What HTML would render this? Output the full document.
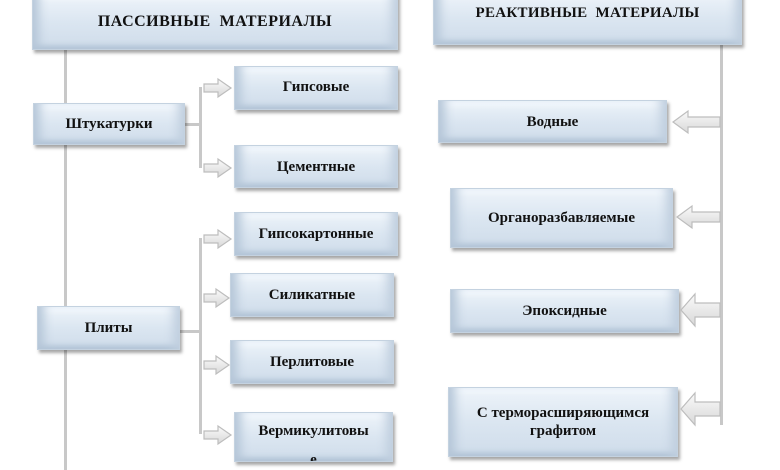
<!DOCTYPE html>
<html><head><meta charset="utf-8"><style>
html,body{margin:0;padding:0;background:#fff;}
body{width:780px;height:470px;position:relative;overflow:hidden;font-family:"Liberation Serif","Noto Serif CJK SC",serif;}
.b{position:absolute;box-sizing:border-box;display:flex;align-items:center;justify-content:center;text-align:center;font-weight:bold;font-size:15px;color:#111;
background:linear-gradient(180deg,#eef4fa 0%,#dbe6f1 50%,#cfdcea 100%);
box-shadow:inset 12px 0 10px -6px #b5c6d8,inset -12px 0 10px -6px #c0cfdf,inset 0 7px 6px -4px #f7fbff,inset 0 -7px 6px -4px #afc1d4,2px 3px 3px rgba(0,0,0,0.35);
border:1px solid #c4d2e0;line-height:1.2;overflow:hidden;}
.l{position:absolute;background:#c8c8c8;}
svg{position:absolute;overflow:visible;}
</style></head><body>
<div class="l" style="left:64px;top:48px;width:3px;height:422px"></div>
<div class="l" style="left:185px;top:123px;width:16px;height:3px"></div>
<div class="l" style="left:199px;top:87px;width:3px;height:81px"></div>
<div class="l" style="left:178px;top:330px;width:23px;height:3px"></div>
<div class="l" style="left:199px;top:238px;width:3px;height:196px"></div>
<div class="l" style="left:720px;top:45px;width:3px;height:380px"></div>

<div class="b" style="left:32px;top:-6px;width:366px;height:56px;font-size:16px;letter-spacing:0.5px">ПАССИВНЫЕ&nbsp; МАТЕРИАЛЫ</div>
<div class="b" style="left:433px;top:-8px;width:309px;height:53px;font-size:15px;letter-spacing:0.3px;align-items:flex-start;padding-top:11px">РЕАКТИВНЫЕ&nbsp; МАТЕРИАЛЫ</div>

<div class="b" style="left:33px;top:103px;width:152px;height:42px">Штукатурки</div>
<div class="b" style="left:234px;top:66px;width:164px;height:44px;align-items:flex-start;padding-top:11px">Гипсовые</div>
<div class="b" style="left:234px;top:145px;width:164px;height:43px">Цементные</div>
<div class="b" style="left:37px;top:306px;width:143px;height:44px">Плиты</div>
<div class="b" style="left:234px;top:212px;width:164px;height:44px">Гипсокартонные</div>
<div class="b" style="left:230px;top:273px;width:164px;height:44px;align-items:flex-start;padding-top:12px">Силикатные</div>
<div class="b" style="left:230px;top:340px;width:164px;height:44px">Перлитовые</div>
<div class="b" style="left:234px;top:412px;width:159px;height:50px;align-items:flex-start;padding-top:4px;line-height:1.9">Вермикулитовы<br>е</div>

<div class="b" style="left:438px;top:100px;width:229px;height:43px">Водные</div>
<div class="b" style="left:450px;top:188px;width:223px;height:60px">Органоразбавляемые</div>
<div class="b" style="left:450px;top:289px;width:229px;height:44px">Эпоксидные</div>
<div class="b" style="left:448px;top:387px;width:230px;height:70px">С терморасширяющимся<br>графитом</div>

<svg width="780" height="470" style="left:0;top:0">
<defs><linearGradient id="g" x1="0" y1="0" x2="0" y2="1"><stop offset="0" stop-color="#fafafa"/><stop offset="1" stop-color="#d8d8d8"/></linearGradient></defs>
<g fill="url(#g)" stroke="#bdbdbd" stroke-width="1.2">
<path d="M204,84 h14 v-5 l13,9 l-13,9 v-5 h-14 z"/>
<path d="M204,164 h14 v-5 l13,9 l-13,9 v-5 h-14 z"/>
<path d="M204,235 h14 v-5 l13,9 l-13,9 v-5 h-14 z"/>
<path d="M204,294 h12 v-5 l13,9 l-13,9 v-5 h-12 z"/>
<path d="M204,361 h12 v-5 l13,9 l-13,9 v-5 h-12 z"/>
<path d="M204,431 h14 v-5 l13,9 l-13,9 v-5 h-14 z"/>
<path d="M720,117 h-32 v-6 l-15,11 l15,11 v-6 h32 z"/>
<path d="M720,212 h-28 v-6 l-15,11 l15,11 v-6 h28 z"/>
<path d="M720,303 h-25 v-9 l-14,16 l14,16 v-9 h25 z"/>
<path d="M720,402 h-25 v-9 l-14,16 l14,16 v-9 h25 z"/>
</g>
</svg>
</body></html>
